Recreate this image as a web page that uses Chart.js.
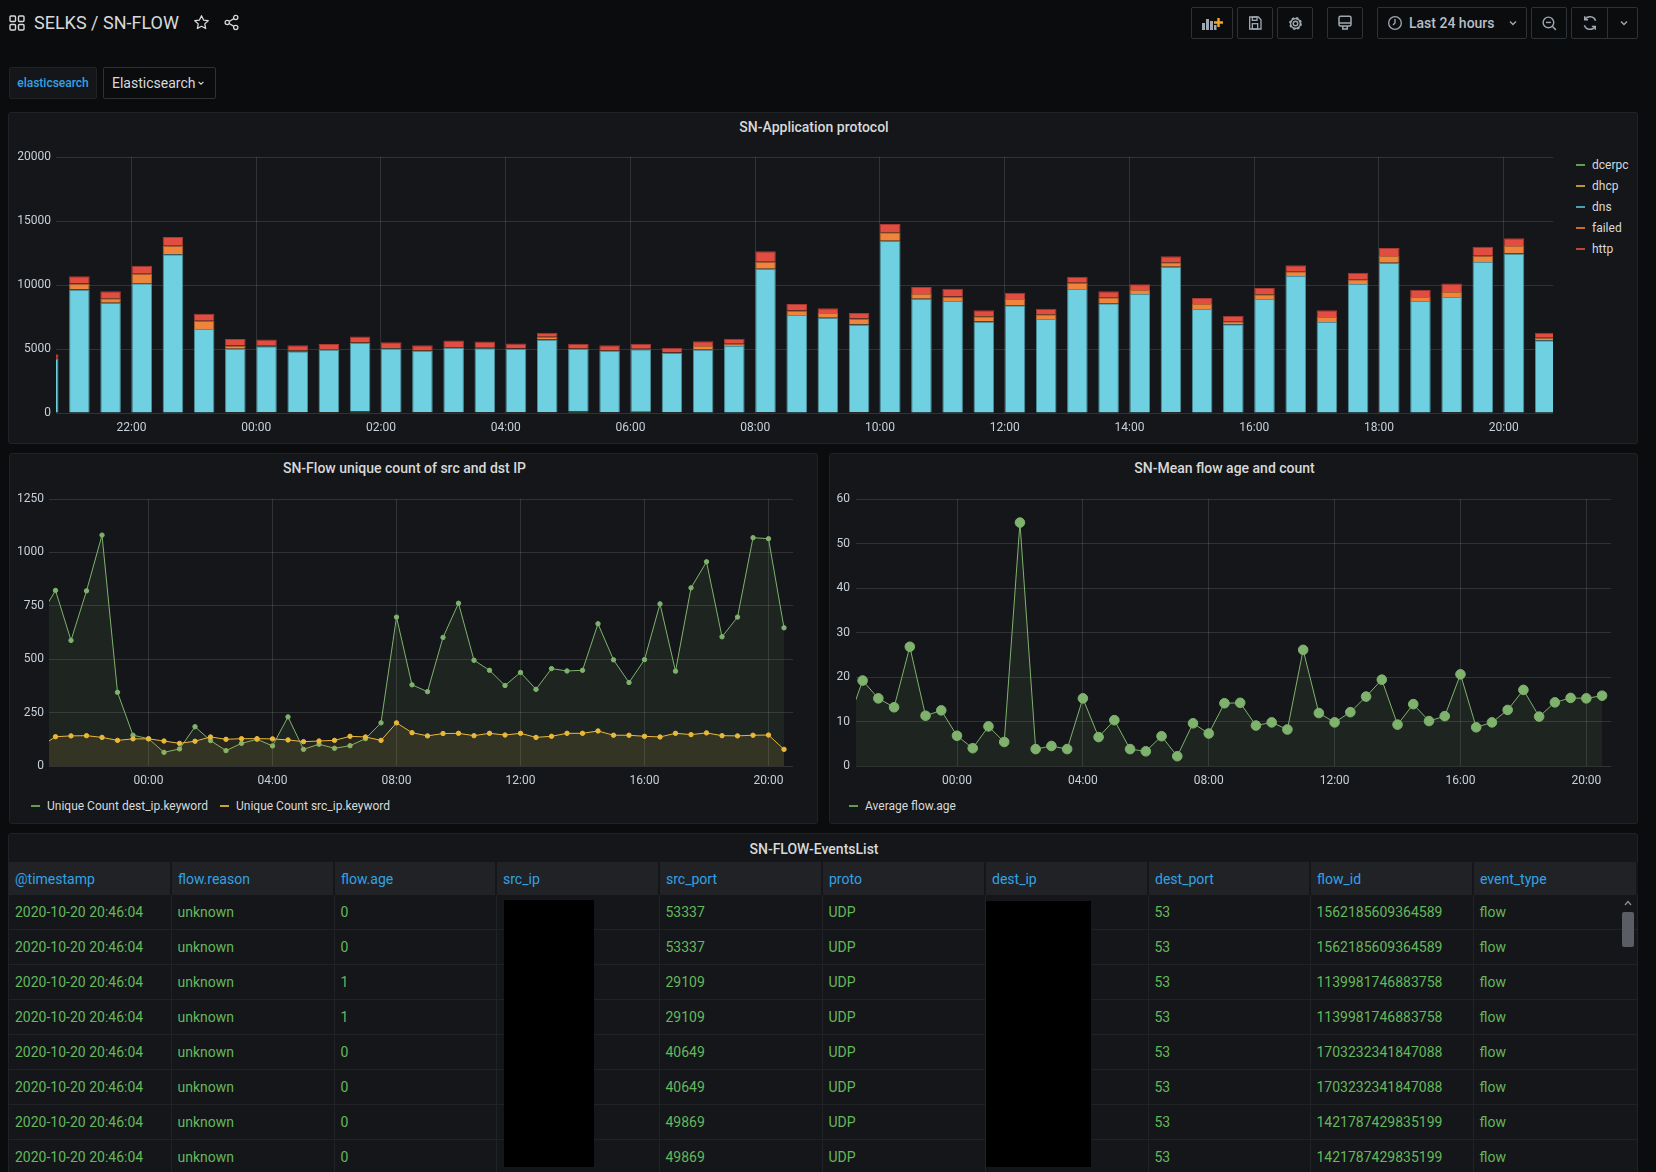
<!DOCTYPE html>
<html>
<head>
<meta charset="utf-8">
<title>SELKS / SN-FLOW</title>
<script src="https://cdn.jsdelivr.net/npm/chart.js@4.4.0/dist/chart.umd.min.js"></script>
<style>
  html, body { margin: 0; padding: 0; }
  body { width: 1656px; height: 1172px; background: #0b0c0e; font-family: Roboto, "Noto Sans", sans-serif; color: #d8d9da; position: relative; overflow: hidden; }
  .abs { position: absolute; }
  .btn { position: absolute; top: 7px; height: 32px; box-sizing: border-box; border: 1px solid #2c3235; border-radius: 2px; background: #0b0c0e; display: flex; align-items: center; justify-content: center; }
  .panel { position: absolute; box-sizing: border-box; background: #141619; border: 1px solid #202226; border-radius: 3px; }
  .ptitle { position: absolute; left: 0; right: 18px; top: 6px; line-height: 16px; text-align: center; font-size: 14px; font-weight: 500; color: #d8d9da; }
  .legend { position: absolute; font-size: 12px; line-height: 14px; color: #d8d9da; white-space: nowrap; }
  .legend i { display: inline-block; width: 9px; height: 2px; vertical-align: middle; margin-right: 7px; position: relative; top: -1px; }
  canvas { position: absolute; }
  table { position: absolute; left: 9px; top: 862px; width: 1628px; border-collapse: collapse; table-layout: fixed; font-size: 14px; }
  th { height: 33px; background: #202226; color: #33a2e5; font-weight: 400; text-align: left; padding: 0 0 0 6px; border-right: 2px solid #141619; }
  td { height: 34px; color: #65b85c; padding: 0 0 0 6px; border-bottom: 1px solid #202226; border-right: 1px solid #202226; }
  .redact { position: absolute; background: #000; }
</style>
</head>
<body>

<!-- top bar -->
<svg class="abs" style="left:9px;top:15px" width="16" height="16" viewBox="0 0 16 16" fill="none" stroke="#d8d9da" stroke-width="1.4">
  <rect x="1" y="1" width="5.5" height="5.5" rx="1"/><rect x="9.5" y="1" width="5.5" height="5.5" rx="1"/>
  <rect x="1" y="9.5" width="5.5" height="5.5" rx="1"/><rect x="9.5" y="9.5" width="5.5" height="5.5" rx="1"/>
</svg>
<div class="abs" style="left:34px;top:11px;font-size:18px;line-height:24px;color:#d8d9da">SELKS / SN-FLOW</div>
<svg class="abs" style="left:193px;top:14px" width="17" height="17" viewBox="0 0 24 24" fill="none" stroke="#d8d9da" stroke-width="1.8" stroke-linejoin="round">
  <polygon points="12,2.5 14.9,8.6 21.5,9.4 16.6,13.9 17.9,20.5 12,17.2 6.1,20.5 7.4,13.9 2.5,9.4 9.1,8.6"/>
</svg>
<svg class="abs" style="left:223px;top:14px" width="17" height="17" viewBox="0 0 24 24" fill="none" stroke="#d8d9da" stroke-width="1.8">
  <circle cx="18" cy="5" r="3"/><circle cx="6" cy="12" r="3"/><circle cx="18" cy="19" r="3"/>
  <line x1="8.6" y1="10.5" x2="15.4" y2="6.5"/><line x1="8.6" y1="13.5" x2="15.4" y2="17.5"/>
</svg>

<div class="btn" style="left:1191px;width:42px">
  <svg width="22" height="16" viewBox="0 0 22 16"><rect x="1" y="8" width="3" height="7" fill="#9fa7b3"/><rect x="5" y="4" width="3" height="11" fill="#9fa7b3"/><rect x="9" y="6" width="3" height="9" fill="#9fa7b3"/><rect x="13" y="10" width="2.5" height="5" fill="#9fa7b3"/><path d="M17.5 3v9M13 7.5h9" stroke="#f5a623" stroke-width="2.4"/></svg>
</div>
<div class="btn" style="left:1237px;width:36px">
  <svg width="16" height="16" viewBox="0 0 24 24" fill="none" stroke="#9fa7b3" stroke-width="2"><path d="M4 3h13l4 4v14H4z"/><rect x="8" y="3" width="7" height="5"/><rect x="8" y="13" width="8" height="8"/></svg>
</div>
<div class="btn" style="left:1277px;width:36px">
  <svg width="17" height="17" viewBox="0 0 24 24" fill="none" stroke="#9fa7b3" stroke-width="2"><circle cx="12" cy="12" r="3.2"/><circle cx="12" cy="12" r="7.6" stroke-width="3" stroke-dasharray="3.2 2.77"/><circle cx="12" cy="12" r="7"/></svg>
</div>
<div class="btn" style="left:1327px;width:36px">
  <svg width="18" height="18" viewBox="0 0 24 24" fill="none" stroke="#9fa7b3" stroke-width="2"><rect x="4" y="3" width="16" height="13" rx="2"/><line x1="4" y1="12" x2="20" y2="12"/><path d="M9 16v4h6v-4"/></svg>
</div>
<div class="btn" style="left:1377px;width:150px;justify-content:flex-start">
  <svg style="margin-left:9px" width="16" height="16" viewBox="0 0 24 24" fill="none" stroke="#9fa7b3" stroke-width="2"><circle cx="12" cy="12" r="9.5"/><path d="M12 6v6l-3 3"/></svg>
  <span style="margin-left:6px;font-size:14px;font-weight:500;color:#b7bec8">Last 24 hours</span>
  <svg style="margin-left:13px" width="10" height="10" viewBox="0 0 10 10" fill="none" stroke="#9fa7b3" stroke-width="1.4"><polyline points="2,3.5 5,6.5 8,3.5"/></svg>
</div>
<div class="btn" style="left:1531px;width:36px">
  <svg width="17" height="17" viewBox="0 0 24 24" fill="none" stroke="#9fa7b3" stroke-width="2"><circle cx="10.5" cy="10.5" r="7.5"/><line x1="16" y1="16" x2="21" y2="21"/><line x1="7" y1="10.5" x2="14" y2="10.5"/></svg>
</div>
<div class="btn" style="left:1571px;width:67px;justify-content:flex-start">
  <div style="width:35px;height:30px;border-right:1px solid #2c3235;display:flex;align-items:center;justify-content:center">
    <svg width="18" height="18" viewBox="0 0 24 24" fill="none" stroke="#9fa7b3" stroke-width="2"><path d="M19.5 9A8 8 0 0 0 5 7.5"/><polyline points="5,3 5,7.5 9.5,7.5"/><path d="M4.5 15A8 8 0 0 0 19 16.5"/><polyline points="19,21 19,16.5 14.5,16.5"/></svg>
  </div>
  <svg style="margin-left:11px" width="10" height="10" viewBox="0 0 10 10" fill="none" stroke="#9fa7b3" stroke-width="1.4"><polyline points="2,3.5 5,6.5 8,3.5"/></svg>
</div>

<!-- variable row -->
<div class="abs" style="left:9px;top:67px;width:88px;height:32px;box-sizing:border-box;background:#141619;border:1px solid #202226;border-radius:2px;display:flex;align-items:center;justify-content:center;font-size:12px;font-weight:500;color:#33a2e5">elasticsearch</div>
<div class="abs" style="left:103px;top:67px;width:113px;height:32px;box-sizing:border-box;background:#0b0c0e;border:1px solid #2c3235;border-radius:2px;display:flex;align-items:center;font-size:14px;color:#d8d9da">
  <span style="margin-left:8px">Elasticsearch</span>
  <svg style="margin-left:2px" width="8" height="8" viewBox="0 0 10 10" fill="none" stroke="#d8d9da" stroke-width="1.4"><polyline points="2,3.5 5,6.5 8,3.5"/></svg>
</div>

<!-- panels -->
<div class="panel" style="left:8px;top:112px;width:1630px;height:332px"><div class="ptitle">SN-Application protocol</div></div>
<div class="panel" style="left:9px;top:453px;width:809px;height:371px"><div class="ptitle">SN-Flow unique count of src and dst IP</div></div>
<div class="panel" style="left:829px;top:453px;width:809px;height:371px"><div class="ptitle">SN-Mean flow age and count</div></div>
<div class="panel" style="left:8px;top:833px;width:1630px;height:360px"><div class="ptitle" style="top:7px">SN-FLOW-EventsList</div></div>

<canvas id="protoChart" width="1549" height="297" style="left:8px;top:140px"></canvas>
<canvas id="uniqueChart" width="789" height="308" style="left:9px;top:482px"></canvas>
<canvas id="ageChart" width="788" height="308" style="left:829px;top:482px"></canvas>

<div class="legend" style="left:1576px;top:158px">
  <div style="height:21px"><i style="background:#629e51"></i>dcerpc</div>
  <div style="height:21px"><i style="background:#b8972f"></i>dhcp</div>
  <div style="height:21px"><i style="background:#4aa0b0"></i>dns</div>
  <div style="height:21px"><i style="background:#c56a32"></i>failed</div>
  <div style="height:21px"><i style="background:#c0443b"></i>http</div>
</div>
<div class="legend" style="left:31px;top:799px"><i style="background:#629e51"></i>Unique Count dest_ip.keyword</div>
<div class="legend" style="left:220px;top:799px"><i style="background:#c9a33a"></i>Unique Count src_ip.keyword</div>
<div class="legend" style="left:849px;top:799px"><i style="background:#629e51"></i>Average flow.age</div>

<table id="events"></table>
<div class="redact" style="left:504px;top:900px;width:90px;height:267px"></div>
<div class="redact" style="left:986px;top:901px;width:105px;height:266px"></div>
<svg class="abs" style="left:1623px;top:899px" width="10" height="8" viewBox="0 0 10 8" fill="none" stroke="#8e9399" stroke-width="1.2"><polyline points="2,6 5,2.5 8,6"/></svg>
<div class="abs" style="left:1622px;top:912px;width:12px;height:35px;background:#5a5d63;border-radius:2px"></div>

<script>
// 30 minute buckets, from 20:30 the day before to 20:30
const bucketLabels = ['20:30','21:00','21:30','22:00','22:30','23:00','23:30',
  '00:00','00:30','01:00','01:30','02:00','02:30','03:00','03:30','04:00','04:30','05:00','05:30',
  '06:00','06:30','07:00','07:30','08:00','08:30','09:00','09:30','10:00','10:30','11:00','11:30',
  '12:00','12:30','13:00','13:30','14:00','14:30','15:00','15:30','16:00','16:30','17:00','17:30',
  '18:00','18:30','19:00','19:30','20:00','20:30'];

// SN-Application protocol (stacked)
const dcerpc = [20,30,30,30,30,30,40,40,40,60, 90,40,40,50,40,40,40,100,40,90,
  40,30,30,40,30,30,40,40,30,30, 30,30,30,30,30,30,40,30,30,30, 30,30,30,30,30,40,30,30,20];
const dhcp = [10,10,10,10,10,10,10,10,10,10, 20,10,10,10,10,10,10,10,10,10,
  10,10,10,10,10,10,10,10,10,10, 10,10,10,10,10,10,10,10,10,10, 10,10,10,10,10,10,10,10,10];
const dns = [4210,9600,8580,10090,12360,6520,4960,5170,4780,4860,5350,4990,4800,5060,5010,4960,
  5690,4890,4800,4890,4650,4930,5190,11210,7620,7410,6860,13400,8890,8710,7100,8370,7300,9650,
  8530,9260,11370,8085,6890,8870,10660,7070,10040,11700,8710,9020,11760,12430,5660];
const failed = [120,470,340,755,670,650,260,80,50,40,40,30,30,40,30,30,210,30,30,30,30,260,185,
  550,340,360,470,670,370,360,410,500,370,490,470,310,360,395,230,360,370,390,360,530,310,390,490,580,190];
const http = [230,580,545,625,680,550,520,440,420,420,480,460,420,510,490,390,320,385,420,385,360,
  370,395,830,520,370,440,650,540,600,470,490,440,470,465,440,470,460,440,500,470,520,520,620,570,650,700,600,390];

// SN-Flow unique count of src and dst IP
const uniqueDest = [700,822,588,820,1081,345,144,128,64,80,184,119,72,106,125,94,230,78,102,83,95,
  128,202,697,380,348,602,762,495,448,377,438,359,456,445,448,666,497,391,498,759,444,834,956,605,697,1069,1064,647];
const uniqueSrc = [90,137,141,142,134,120,127,127,117,106,116,136,125,128,128,127,122,114,117,120,139,
  136,120,202,156,141,152,153,142,153,145,153,134,139,153,153,164,144,144,139,136,153,147,155,142,141,144,145,78];

// SN-Mean flow age and count
const flowAge = [9.2,19.2,15.2,13.2,26.8,11.3,12.5,6.8,4.0,8.9,5.4,54.7,3.8,4.5,3.8,15.2,6.5,10.3,3.8,3.3,
  6.7,2.2,9.6,7.3,14.1,14.2,9.1,9.8,8.2,26.1,11.9,9.8,12.1,15.6,19.4,9.3,13.9,10.1,11.2,20.6,8.7,9.8,
  12.6,17.1,11.1,14.3,15.3,15.2,15.8];

const barTickLabels = ['22:00','00:00','02:00','04:00','06:00','08:00','10:00','12:00','14:00','16:00','18:00','20:00'];
const lineTickLabels = ['00:00','04:00','08:00','12:00','16:00','20:00'];

// time range shown (hours relative to midnight)
const X_MIN = -3.21, X_MAX = 20.79;

// events table
const columns = ['@timestamp','flow.reason','flow.age','src_ip','src_port','proto','dest_ip','dest_port','flow_id','event_type'];
const timestamps = Array(8).fill('2020-10-20 20:46:04');
const flowAges = ['0','0','1','1','0','0','0','0'];
const srcPorts = ['53337','53337','29109','29109','40649','40649','49869','49869'];
const flowIds = ['1562185609364589','1562185609364589','1139981746883758','1139981746883758',
  '1703232341847088','1703232341847088','1421787429835199','1421787429835199'];

function toHours(labels) {
  let day = -24;
  return labels.map(l => {
    if (l === '00:00') day = 0;
    const [h, m] = l.split(':').map(Number);
    return day + h + m / 60;
  });
}
const xs = toHours(bucketLabels);

const GRID = 'rgba(255,255,255,0.12)';
Chart.defaults.font.family = 'Roboto, "Noto Sans", sans-serif';
Chart.defaults.font.size = 12;
Chart.defaults.color = '#c7d0d9';
Chart.defaults.animation = false;

function timeAxis(tickLabels) {
  const vals = toHours(tickLabels);
  return {
    type: 'linear', min: X_MIN, max: X_MAX, offset: false, stacked: true,
    grid: { color: GRID, drawTicks: false, offset: false },
    border: { display: false },
    afterBuildTicks: s => { s.ticks = vals.map(v => ({ value: v })); },
    afterFit: s => { s.height = 24; },
    ticks: { autoSkip: false, maxRotation: 0, padding: 8, callback: (v, i) => tickLabels[i] }
  };
}
function valueAxis(max, step, width, pad, stacked) {
  return {
    type: 'linear', min: 0, max: max, stacked: stacked,
    grid: { color: GRID, drawTicks: false },
    border: { display: false },
    afterFit: s => { s.width = width; },
    ticks: { stepSize: step, padding: pad, callback: v => String(v) }
  };
}
const baseOpts = {
  responsive: false,
  events: [],
  plugins: { legend: { display: false }, tooltip: { enabled: false } }
};

// bars start at the bucket time and cover 2/3 of the bucket
const BAR_PCT = 0.66;
const BAR_SHIFT = 0.5 * BAR_PCT / 2;
function barSet(label, vals, fill, line) {
  return {
    label: label, data: xs.map((x, i) => ({ x: x + BAR_SHIFT, y: vals[i] })),
    backgroundColor: fill, borderColor: line, borderWidth: 1,
    barPercentage: BAR_PCT, categoryPercentage: 1, clip: 0
  };
}

new Chart(document.getElementById('protoChart'), {
  type: 'bar',
  data: {
    datasets: [
      barSet('dcerpc', dcerpc, '#7eb26d', '#5f8a52'),
      barSet('dhcp', dhcp, '#eab839', '#a8862e'),
      barSet('dns', dns, '#6ed0e0', '#4e8f9a'),
      barSet('failed', failed, '#ef843c', '#b4622d'),
      barSet('http', http, '#e24d42', '#a83a33')
    ]
  },
  options: Object.assign({}, baseOpts, {
    layout: { padding: { top: 17, right: 4, bottom: 0, left: 0 } },
    scales: { x: timeAxis(barTickLabels), y: valueAxis(20000, 5000, 48, 5, true) }
  })
});

function lineSet(vals, color, fill, radius, order) {
  return {
    data: xs.map((x, i) => ({ x: x, y: vals[i] })),
    borderColor: color, backgroundColor: fill, fill: 'origin', borderWidth: 1, tension: 0,
    pointRadius: radius, pointBackgroundColor: color, pointBorderColor: color, pointBorderWidth: 1,
    clip: 0, order: order
  };
}

new Chart(document.getElementById('uniqueChart'), {
  type: 'line',
  data: {
    datasets: [
      lineSet(uniqueDest, '#7eb26d', 'rgba(126,178,109,0.1)', 2.2, 1),
      lineSet(uniqueSrc, '#eab839', 'rgba(234,184,57,0.1)', 2.2, 0)
    ]
  },
  options: Object.assign({}, baseOpts, {
    layout: { padding: { top: 17, right: 4, bottom: 0, left: 0 } },
    scales: {
      x: Object.assign(timeAxis(lineTickLabels), { stacked: false }),
      y: valueAxis(1250, 250, 40, 5, false)
    }
  })
});

new Chart(document.getElementById('ageChart'), {
  type: 'line',
  data: { datasets: [lineSet(flowAge, '#7eb26d', 'rgba(126,178,109,0.1)', 4.8, 0)] },
  options: Object.assign({}, baseOpts, {
    layout: { padding: { top: 17, right: 4, bottom: 0, left: 0 } },
    scales: {
      x: Object.assign(timeAxis(lineTickLabels), { stacked: false }),
      y: valueAxis(60, 10, 27, 6, false)
    }
  })
});

// events table
const colWidths = [162, 163, 162, 163, 163, 163, 163, 162, 163, 164];
const table = document.getElementById('events');
let html = '<colgroup>' + colWidths.map(w => '<col style="width:' + w + 'px">').join('') + '</colgroup>';
html += '<tr>' + columns.map(c => '<th>' + c + '</th>').join('') + '</tr>';
for (let i = 0; i < timestamps.length; i++) {
  const cells = [timestamps[i], 'unknown', flowAges[i], '', srcPorts[i], 'UDP', '', '53', flowIds[i], 'flow'];
  html += '<tr>' + cells.map((c, j) => '<td' + (j === 9 ? ' style="border-right:none"' : '') + '>' + c + '</td>').join('') + '</tr>';
}
table.innerHTML = html;
</script>
</body>
</html>
